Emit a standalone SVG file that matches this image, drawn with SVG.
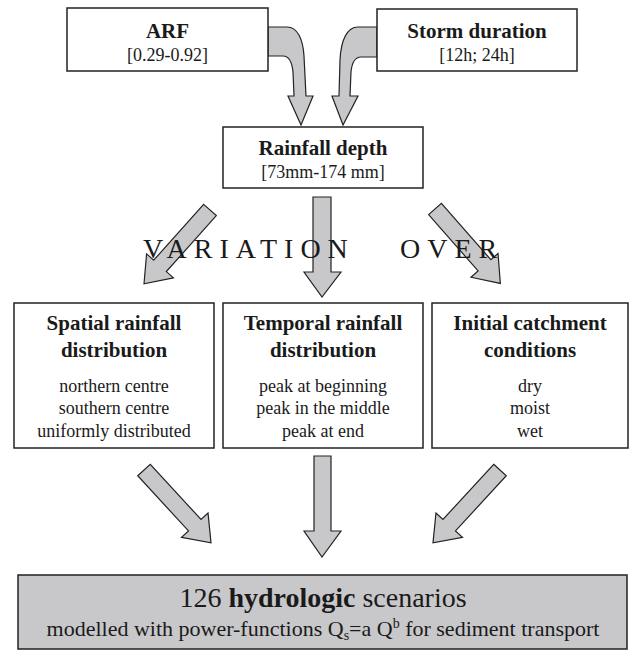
<svg xmlns="http://www.w3.org/2000/svg" width="630" height="650" viewBox="0 0 630 650" font-family="'Liberation Serif', 'DejaVu Serif', serif">
<defs>
<style>
.box{fill:#fff;stroke:#222;stroke-width:1.5}
.gbox{fill:#c8c8ca;stroke:#222;stroke-width:1.5}
.arr{fill:#c8c8ca;stroke:#222;stroke-width:1.2;stroke-linejoin:miter}
text{font-family:'Liberation Serif','DejaVu Serif',serif;fill:#1a1a1a;text-anchor:middle}
.t{font-size:21px;font-weight:bold}
.s{font-size:18px}
.v{font-size:28px;text-anchor:start;letter-spacing:7px}
</style>
<path id="diag" d="M-8.5,0 L8.5,0 L8.5,75 L18,75 L0,99 L-18,75 L-8.5,75 Z"/>
</defs>
<rect width="630" height="650" fill="#fff"/>

<g id="connectors">
<path class="arr" d="M268,27 L287,27 C298,27 303,40 304,56 L306,96 L313,96 L301,125 L288,96 L294,96 L293,72 C292,62 289,56 283,56 L268,56 Z"/>
<path class="arr" d="M377,27 L358,27 C347,27 341,40 340,60 L339,96 L332,96 L343,125 L358,96 L350,96 L351,72 C352,62 355,57 361,57 L377,57 Z"/>
<path class="arr" d="M313,197 L331,197 L331,272 L341,272 L322,297 L304,272 L313,272 Z"/>
<use href="#diag" class="arr" transform="translate(210,210) rotate(41.8)"/>
<use href="#diag" class="arr" transform="translate(435,209) rotate(-41.3)"/>
<path class="arr" d="M314,456 L331,456 L331,531 L341,531 L322,557 L304,531 L314,531 Z"/>
<use href="#diag" class="arr" transform="translate(144,470) rotate(-42.6)"/>
<use href="#diag" class="arr" transform="translate(500,470) rotate(42.6)"/>
</g>

<g id="arf">
<rect class="box" x="67" y="8" width="201" height="63"/>
<text class="t" x="167.5" y="38">ARF</text>
<text class="s" x="167.5" y="61">[0.29-0.92]</text>
</g>

<g id="storm">
<rect class="box" x="377" y="9" width="200" height="62"/>
<text class="t" x="477" y="38">Storm duration</text>
<text class="s" x="477" y="61">[12h; 24h]</text>
</g>

<g id="rainfall">
<rect class="box" x="223" y="127" width="200" height="61"/>
<text class="t" x="323" y="155">Rainfall depth</text>
<text class="s" x="323" y="178">[73mm-174 mm]</text>
</g>

<g id="variation">
<text class="v" x="143" y="258">VARIATION</text>
<text class="v" x="400" y="258">OVER</text>
</g>

<g id="spatial">
<rect class="box" x="14" y="303" width="200" height="145"/>
<text class="t" x="114" y="330">Spatial rainfall</text>
<text class="t" x="114" y="357">distribution</text>
<text class="s" x="114" y="392">northern centre</text>
<text class="s" x="114" y="414">southern centre</text>
<text class="s" x="114" y="437">uniformly distributed</text>
</g>

<g id="temporal">
<rect class="box" x="223" y="303" width="200" height="145"/>
<text class="t" x="323" y="330">Temporal rainfall</text>
<text class="t" x="323" y="357">distribution</text>
<text class="s" x="323" y="392">peak at beginning</text>
<text class="s" x="323" y="414">peak in the middle</text>
<text class="s" x="323" y="437">peak at end</text>
</g>

<g id="initial">
<rect class="box" x="432" y="303" width="196" height="145"/>
<text class="t" x="530" y="330">Initial catchment</text>
<text class="t" x="530" y="357">conditions</text>
<text class="s" x="530" y="392">dry</text>
<text class="s" x="530" y="414">moist</text>
<text class="s" x="530" y="437">wet</text>
</g>

<g id="scenarios">
<rect class="gbox" x="18" y="575" width="609" height="74"/>
<text x="323" y="607" style="font-size:28px">126 <tspan font-weight="bold">hydrologic</tspan> scenarios</text>
<text x="323" y="636" style="font-size:22px">modelled with power-functions Q<tspan font-size="14" dy="4">s</tspan><tspan dy="-4">=a Q</tspan><tspan font-size="14" dy="-8">b</tspan><tspan dy="8"> for sediment transport</tspan></text>
</g>
</svg>
